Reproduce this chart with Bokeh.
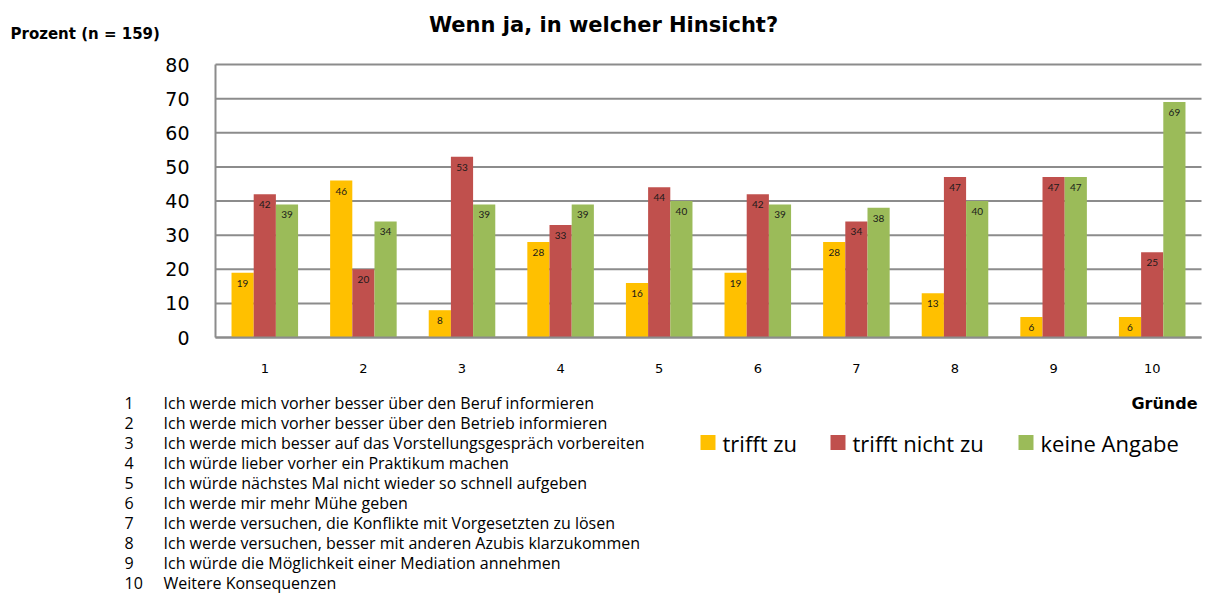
from bokeh.plotting import figure
from bokeh.models import ColumnDataSource, FixedTicker, Range1d
from bokeh.transform import dodge
from bokeh.core.properties import value
from bokeh.embed import file_html
from bokeh.resources import INLINE

# ---------------- data ----------------
categories = ["1", "2", "3", "4", "5", "6", "7", "8", "9", "10"]
trifft_zu = [19, 46, 8, 28, 16, 19, 28, 13, 6, 6]
trifft_nicht_zu = [42, 20, 53, 33, 44, 42, 34, 47, 47, 25]
keine_angabe = [39, 34, 39, 39, 40, 39, 38, 40, 47, 69]
series_names = ["trifft zu", "trifft nicht zu", "keine Angabe"]
y_ticks = [0, 10, 20, 30, 40, 50, 60, 70, 80]
reasons = [
    "Ich werde mich vorher besser über den Beruf informieren",
    "Ich werde mich vorher besser über den Betrieb informieren",
    "Ich werde mich besser auf das Vorstellungsgespräch vorbereiten",
    "Ich würde lieber vorher ein Praktikum machen",
    "Ich würde nächstes Mal nicht wieder so schnell aufgeben",
    "Ich werde mir mehr Mühe geben",
    "Ich werde versuchen, die Konflikte mit Vorgesetzten zu lösen",
    "Ich werde versuchen, besser mit anderen Azubis klarzukommen",
    "Ich würde die Möglichkeit einer Mediation annehmen",
    "Weitere Konsequenzen",
]
title_text = "Wenn ja, in welcher Hinsicht?"
y_title = "Prozent  (n = 159)"
x_title = "Gründe"

# ---------------- layout (pixel geometry of the page) ----------------
colors = ["#FFC000", "#C0504D", "#9BBB59"]
GRID = "#8c8c8c"
FIG_W, FIG_H = 1206, 594
N = len(categories)
PLOT_L, PLOT_R = 215, 1201          # left / right edge of the bar area
PLOT_T, PLOT_B = 64, 337            # y of the top (80) and bottom (0) gridline
Y_MIN, Y_MAX = y_ticks[0], y_ticks[-1]
PX_X = (PLOT_R - PLOT_L) / N
PX_Y = (PLOT_B - PLOT_T) / (Y_MAX - Y_MIN)


def dx(px):
    return 0.5 + (px - PLOT_L) / PX_X


def dy(py):
    return Y_MIN + (PLOT_B - py) / PX_Y


p = figure(width=FIG_W, height=FIG_H, output_backend="svg", toolbar_location=None,
           x_range=Range1d(dx(0), dx(FIG_W)), y_range=Range1d(dy(FIG_H), dy(0)),
           min_border=0, min_border_left=0, min_border_right=0,
           min_border_top=0, min_border_bottom=0)
p.outline_line_color = None
p.grid.visible = False

xs = [i + 1 for i in range(N)]

# axes drawn at fixed positions inside the canvas
p.yaxis.fixed_location = 0.5
p.yaxis.bounds = (Y_MIN, Y_MAX)
p.yaxis.ticker = FixedTicker(ticks=y_ticks)
p.yaxis.axis_line_color = GRID
p.yaxis.axis_line_width = 2
p.yaxis.major_tick_line_color = None
p.yaxis.minor_tick_line_color = None
p.yaxis.major_label_standoff = 20
p.yaxis.major_label_text_font = "DejaVu Sans"
p.yaxis.major_label_text_font_size = "19px"
p.yaxis.major_label_text_color = "#000000"

p.xaxis.fixed_location = Y_MIN
p.xaxis.bounds = (0.5, N + 0.5)
p.xaxis.ticker = FixedTicker(ticks=xs)
p.xaxis.major_label_overrides = {x: c for x, c in zip(xs, categories)}
p.xaxis.axis_line_color = GRID
p.xaxis.axis_line_width = 2
p.xaxis.major_tick_line_color = None
p.xaxis.minor_tick_line_color = None
p.xaxis.major_label_standoff = 20
p.xaxis.major_label_text_font = "DejaVu Sans"
p.xaxis.major_label_text_font_size = "13px"
p.xaxis.major_label_text_color = "#000000"

# horizontal gridlines over the bar area only
p.segment(x0=[0.5] * len(y_ticks), x1=[N + 0.5] * len(y_ticks), y0=y_ticks, y1=y_ticks,
          line_color=GRID, line_width=2)

# bars
src = ColumnDataSource(dict(
    x=xs,
    zu=trifft_zu, nicht=trifft_nicht_zu, keine=keine_angabe,
    zu_s=[str(v) for v in trifft_zu],
    nicht_s=[str(v) for v in trifft_nicht_zu],
    keine_s=[str(v) for v in keine_angabe],
))
W = 0.225
offsets = [-W, 0.0, W]
fields = ["zu", "nicht", "keine"]
for f, off, c in zip(fields, offsets, colors):
    p.vbar(x=dodge("x", off, range=p.x_range), top=f, width=W, source=src,
           fill_color=c, line_color=None)
    p.text(x=dodge("x", off, range=p.x_range), y=f, text=f + "_s", source=src,
           text_align="center", text_baseline="top", y_offset=7,
           text_font=value("Lato"), text_font_size="10px", text_color="#1a1a1a")

# titles
p.text(x=[dx(603)], y=[dy(24)], text=[title_text], text_align="center", text_baseline="middle",
       text_font=value("DejaVu Sans"), text_font_style="bold", text_font_size="21px",
       text_color="#000000")
p.text(x=[dx(10)], y=[dy(33)], text=[y_title], text_align="left", text_baseline="middle",
       text_font=value("DejaVu Sans"), text_font_style="bold", text_font_size="15px",
       text_color="#000000")
p.text(x=[dx(1197)], y=[dy(403)], text=[x_title], text_align="right", text_baseline="middle",
       text_font=value("DejaVu Sans"), text_font_style="bold", text_font_size="16px",
       text_color="#000000")

# legend (drawn as swatches and labels)
leg_px = [700, 830, 1018]
leg_y = dy(442)
p.scatter(x=[dx(v + 7.5) for v in leg_px], y=[leg_y] * 3, marker="square", size=15,
          fill_color=colors, line_color=None)
p.text(x=[dx(v + 22) for v in leg_px], y=[leg_y] * 3, text=series_names, text_align="left",
       text_baseline="middle", text_font=value("Open Sans"), text_font_size="22px",
       text_color="#000000")

# footnotes
rows_y = [dy(402 + 20.1 * i) for i in range(N)]
p.text(x=[dx(124)] * N, y=rows_y, text=categories, text_align="left",
       text_baseline="middle", text_font=value("Open Sans"), text_font_size="16px",
       text_color="#000000")
p.text(x=[dx(163)] * N, y=rows_y, text=reasons, text_align="left",
       text_baseline="middle", text_font=value("Open Sans"), text_font_size="16px",
       text_color="#000000")

open("out.html", "w").write(file_html(p, INLINE))
